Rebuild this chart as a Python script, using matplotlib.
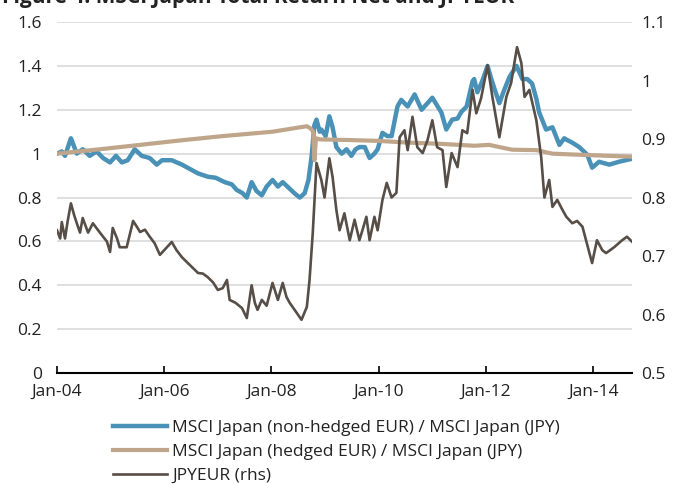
import matplotlib.pyplot as plt
from matplotlib.ticker import FuncFormatter

# MSCI Japan (non-hedged EUR) / MSCI Japan (JPY), decimal years
t_unhedged = [2004.00, 2004.09, 2004.15, 2004.26, 2004.37, 2004.48, 2004.61, 2004.74, 2004.86, 2004.99,
              2005.10, 2005.21, 2005.32, 2005.45, 2005.58, 2005.73, 2005.86, 2005.96, 2006.14, 2006.33,
              2006.48, 2006.63, 2006.81, 2006.96, 2007.13, 2007.26, 2007.35, 2007.46, 2007.54, 2007.63,
              2007.72, 2007.82, 2007.91, 2008.02, 2008.12, 2008.21, 2008.34, 2008.45, 2008.53, 2008.62,
              2008.69, 2008.75, 2008.80, 2008.84, 2008.90, 2008.93, 2009.01, 2009.08, 2009.14, 2009.21,
              2009.31, 2009.40, 2009.49, 2009.57, 2009.64, 2009.74, 2009.83, 2009.92, 2009.98, 2010.07,
              2010.16, 2010.24, 2010.35, 2010.42, 2010.54, 2010.67, 2010.80, 2010.91, 2011.00, 2011.17,
              2011.26, 2011.37, 2011.47, 2011.54, 2011.64, 2011.75, 2011.78, 2011.84, 2011.93, 2012.03,
              2012.10, 2012.18, 2012.25, 2012.34, 2012.44, 2012.57, 2012.68, 2012.77, 2012.86, 2012.94,
              2012.99, 2013.12, 2013.24, 2013.37, 2013.46, 2013.50, 2013.61, 2013.74, 2013.89, 2013.98,
              2014.11, 2014.30, 2014.48, 2014.73]
unhedged = [1.00, 1.01, 0.99, 1.07, 1.00, 1.02, 0.99, 1.01, 0.98, 0.96,
            0.99, 0.96, 0.97, 1.02, 0.99, 0.98, 0.95, 0.97, 0.97, 0.95,
            0.93, 0.91, 0.895, 0.89, 0.87, 0.86, 0.835, 0.82, 0.80, 0.87,
            0.83, 0.81, 0.85, 0.88, 0.85, 0.87, 0.84, 0.815, 0.80, 0.82,
            0.88, 0.99, 1.13, 1.155, 1.10, 1.11, 1.08, 1.17, 1.12, 1.03,
            1.00, 1.02, 0.99, 1.02, 1.03, 1.03, 0.98, 1.00, 1.02, 1.095,
            1.08, 1.08, 1.215, 1.245, 1.215, 1.27, 1.20, 1.23, 1.255, 1.187,
            1.11, 1.155, 1.16, 1.19, 1.215, 1.33, 1.34, 1.28, 1.33, 1.40,
            1.34, 1.28, 1.23, 1.29, 1.35, 1.40, 1.34, 1.34, 1.32, 1.25,
            1.19, 1.11, 1.12, 1.04, 1.07, 1.064, 1.05, 1.03, 0.995, 0.936,
            0.963, 0.95, 0.963, 0.977]

# MSCI Japan (hedged EUR) / MSCI Japan (JPY)
t_hedged = [2004.00, 2004.80, 2005.55, 2006.29, 2007.09, 2008.02, 2008.53, 2008.66, 2008.73, 2008.78,
            2008.80, 2008.83, 2008.90, 2009.46, 2010.01, 2010.57, 2011.13, 2011.78, 2012.06, 2012.25,
            2012.49, 2012.94, 2013.24, 2013.74, 2014.73]
hedged = [1.00, 1.02, 1.04, 1.06, 1.08, 1.10, 1.12, 1.125, 1.115, 1.10,
          0.97, 1.07, 1.065, 1.062, 1.058, 1.05, 1.045, 1.036, 1.04, 1.03,
          1.018, 1.016, 1.00, 0.995, 0.986]

# JPYEUR (rhs)
t_jpy = [2004.00, 2004.06, 2004.09, 2004.15, 2004.20, 2004.26, 2004.32, 2004.37, 2004.43, 2004.48,
         2004.58, 2004.67, 2004.76, 2004.86, 2004.93, 2004.99, 2005.04, 2005.12, 2005.17, 2005.30,
         2005.42, 2005.49, 2005.55, 2005.64, 2005.73, 2005.82, 2005.92, 2006.05, 2006.14, 2006.23,
         2006.33, 2006.44, 2006.53, 2006.63, 2006.72, 2006.81, 2006.91, 2007.00, 2007.09, 2007.17,
         2007.22, 2007.33, 2007.45, 2007.54, 2007.63, 2007.69, 2007.74, 2007.82, 2007.91, 2008.02,
         2008.12, 2008.21, 2008.28, 2008.34, 2008.47, 2008.56, 2008.66, 2008.71, 2008.77, 2008.84,
         2008.93, 2008.99, 2009.08, 2009.14, 2009.21, 2009.27, 2009.36, 2009.46, 2009.55, 2009.64,
         2009.70, 2009.77, 2009.83, 2009.92, 2009.98, 2010.07, 2010.15, 2010.24, 2010.33, 2010.39,
         2010.48, 2010.54, 2010.63, 2010.72, 2010.82, 2010.91, 2011.00, 2011.09, 2011.19, 2011.26,
         2011.36, 2011.47, 2011.56, 2011.65, 2011.75, 2011.82, 2011.91, 2012.03, 2012.12, 2012.25,
         2012.38, 2012.47, 2012.53, 2012.58, 2012.66, 2012.72, 2012.81, 2012.94, 2013.03, 2013.09,
         2013.18, 2013.24, 2013.33, 2013.42, 2013.50, 2013.61, 2013.70, 2013.80, 2013.93, 2013.98,
         2014.07, 2014.17, 2014.24, 2014.39, 2014.54, 2014.63, 2014.73]
jpyeur = [0.744, 0.73, 0.758, 0.73, 0.76, 0.79, 0.77, 0.756, 0.74, 0.765,
          0.74, 0.756, 0.745, 0.733, 0.725, 0.707, 0.748, 0.73, 0.715, 0.715,
          0.76, 0.75, 0.741, 0.745, 0.733, 0.722, 0.702, 0.715, 0.724, 0.71,
          0.698, 0.688, 0.68, 0.671, 0.67, 0.664, 0.655, 0.642, 0.645, 0.659,
          0.625, 0.62, 0.611, 0.594, 0.65, 0.62, 0.608, 0.625, 0.615, 0.654,
          0.625, 0.654, 0.63, 0.62, 0.603, 0.591, 0.613, 0.659, 0.739, 0.859,
          0.83, 0.80, 0.867, 0.835, 0.779, 0.744, 0.773, 0.727, 0.762, 0.727,
          0.745, 0.767, 0.727, 0.767, 0.744, 0.796, 0.825, 0.80, 0.808, 0.903,
          0.915, 0.881, 0.938, 0.886, 0.876, 0.898, 0.932, 0.886, 0.881, 0.818,
          0.876, 0.852, 0.915, 0.91, 0.984, 0.944, 0.97, 1.026, 0.972, 0.903,
          0.972, 0.996, 1.03, 1.057, 1.03, 0.972, 0.984, 0.932, 0.869, 0.80,
          0.83, 0.784, 0.796, 0.78, 0.767, 0.756, 0.76, 0.75, 0.705, 0.688,
          0.727, 0.71, 0.705, 0.715, 0.727, 0.733, 0.724]

x_ticks = [2004, 2006, 2008, 2010, 2012, 2014]
x_labels = ['Jan-04', 'Jan-06', 'Jan-08', 'Jan-10', 'Jan-12', 'Jan-14']
labels = ['MSCI Japan (non-hedged EUR) / MSCI Japan (JPY)',
          'MSCI Japan (hedged EUR) / MSCI Japan (JPY)',
          'JPYEUR (rhs)']

plt.rcParams['font.family'] = ['Open Sans', 'DejaVu Sans']
FS = 12.5
TXT = '#222222'

fig = plt.figure(figsize=(6.75, 4.84), dpi=100)
ax = fig.add_axes([0.0844, 0.2293, 0.8516, 0.7252])
ax2 = ax.twinx()

l1, = ax.plot(t_unhedged, unhedged, color='#4A91B7', lw=3.2, solid_joinstyle='round')
l2, = ax.plot(t_hedged, hedged, color='#BFA58A', lw=3.0, solid_joinstyle='round')
l3, = ax2.plot(t_jpy, jpyeur, color='#564E47', lw=1.9, solid_joinstyle='round')

ax.set_xlim(2004, 2014.72)
ax.set_ylim(0, 1.6)
ax.set_yticks([0, 0.2, 0.4, 0.6, 0.8, 1.0, 1.2, 1.4, 1.6])
ax2.set_ylim(0.5, 1.1)
ax2.set_yticks([0.5, 0.6, 0.7, 0.8, 0.9, 1.0, 1.1])
fmt = FuncFormatter(lambda v, p: f'{v:g}')
ax.yaxis.set_major_formatter(fmt)
ax2.yaxis.set_major_formatter(fmt)

ax.set_xticks(x_ticks)
ax.set_xticklabels(x_labels)

for g in [0.2, 0.4, 0.6, 0.8, 1.0, 1.2, 1.4, 1.6]:
    ax.axhline(g, color='#dcdcdc', lw=1.3, zorder=0)

for a in (ax, ax2):
    for s in ['top', 'left', 'right', 'bottom']:
        a.spines[s].set_visible(False)
ax.spines['bottom'].set_visible(True)
ax.spines['bottom'].set_color('black')
ax.spines['bottom'].set_linewidth(1.5)

ax.tick_params(axis='x', direction='in', length=5, width=1.2, colors='black',
               labelcolor=TXT, labelsize=FS, pad=8)
ax.tick_params(axis='y', length=0, labelsize=FS, labelcolor=TXT, pad=11)
ax2.tick_params(axis='y', length=0, labelsize=FS, labelcolor=TXT, pad=7)

fig.legend([l1, l2, l3], labels, loc='upper left', bbox_to_anchor=(0.1674, 0.133),
           frameon=False, fontsize=FS, handlelength=3.1, handletextpad=0.3,
           labelspacing=0.45, borderpad=0, borderaxespad=0, labelcolor=TXT)

fig.text(0.003, 0.9928, 'Figure 4: MSCI Japan Total Return Net and JPYEUR',
         fontsize=15, fontweight='bold', color=TXT, va='baseline', ha='left')

fig.savefig('out.png', dpi=100)
